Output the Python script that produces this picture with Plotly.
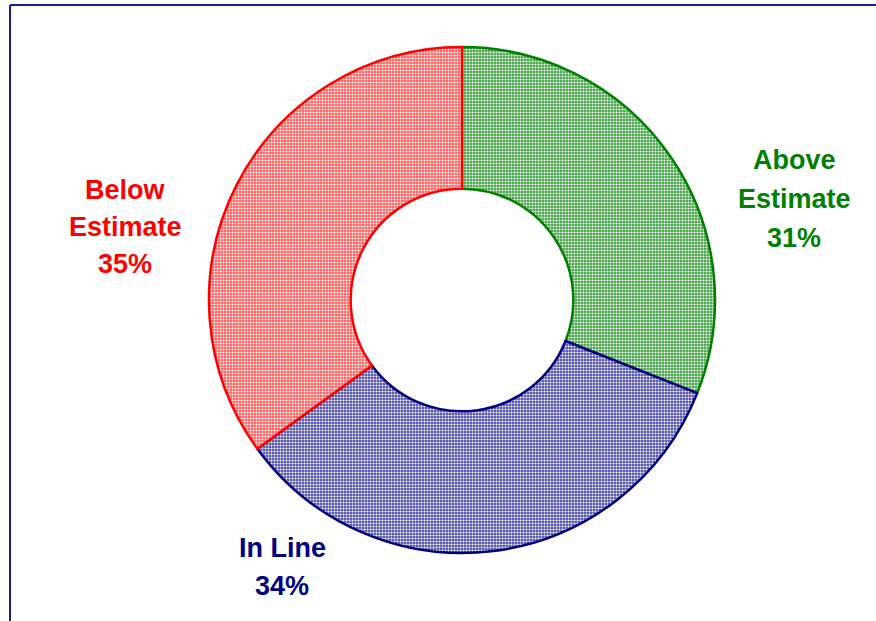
import plotly.graph_objects as go

# Share of results versus estimate
categories = ["Above Estimate", "In Line", "Below Estimate"]
label_lines = [["Above", "Estimate"], ["In Line"], ["Below", "Estimate"]]
shares = [31, 34, 35]
colors = ["#008000", "#000080", "#FF0000"]
fill_colors = ["#44a244", "#5050aa", "#ff5c5c"]

W, H = 876, 621


def px(x):
    return x / W


def py(y):
    return 1 - y / H


# donut geometry in pixels
cx, cy, r = 462, 300, 253

fig = go.Figure(
    go.Pie(
        labels=categories,
        values=shares,
        sort=False,
        direction="clockwise",
        rotation=0,
        hole=0.44,
        textinfo="none",
        hoverinfo="label+percent",
        domain=dict(x=[px(cx - r), px(cx + r)], y=[py(cy + r), py(cy - r)]),
        marker=dict(
            colors=fill_colors,
            line=dict(color=colors, width=2.5),
            pattern=dict(shape=".", fgcolor="white", bgcolor=fill_colors,
                         size=3, solidity=0.38, fillmode="replace"),
        ),
    )
)

# label blocks: center x, y of first line, line spacing (pixels)
label_pos = [(794, 160, 39), (282, 548, 38), (125, 190, 37)]
annotations = []
for lines, v, col, (lx, ly, dy) in zip(label_lines, shares, colors, label_pos):
    for i, t in enumerate(lines + [f"{v}%"]):
        annotations.append(dict(
            x=px(lx), y=py(ly + i * dy), xref="paper", yref="paper",
            text=t, showarrow=False, xanchor="center", yanchor="middle",
            font=dict(family="Liberation Sans, Arial, sans-serif", size=27,
                      color=col, weight="bold"),
        ))

# chart area frame (left and top edges)
frame = "#1c1c98"
shapes = [
    dict(type="line", xref="paper", yref="paper", x0=px(10), y0=0, x1=px(10), y1=py(5),
         line=dict(color=frame, width=2)),
    dict(type="line", xref="paper", yref="paper", x0=px(10), y0=py(5), x1=1, y1=py(5),
         line=dict(color=frame, width=2)),
]

fig.update_layout(
    width=W, height=H,
    margin=dict(l=0, r=0, t=0, b=0),
    paper_bgcolor="white",
    plot_bgcolor="white",
    showlegend=False,
    annotations=annotations,
    shapes=shapes,
)

fig.write_html("out.html")
